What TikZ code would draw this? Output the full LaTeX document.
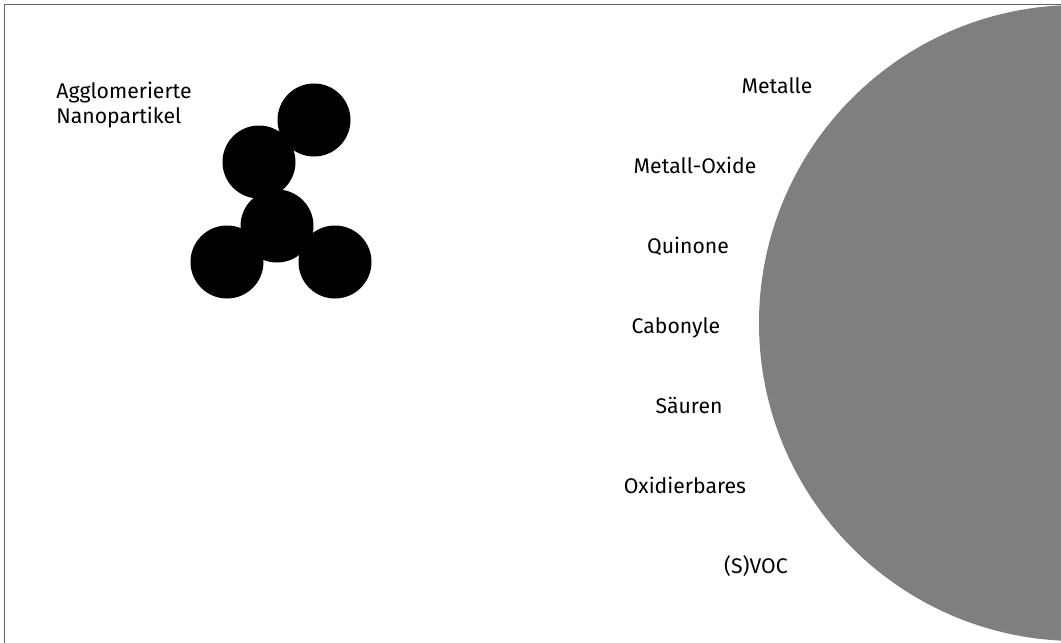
\documentclass[tikz,border=0pt]{standalone}
\usepackage{fontspec}
\setmainfont{Fira Sans}
\usetikzlibrary{positioning}
\definecolor{surfacegray}{RGB}{127,127,127}
\definecolor{framegray}{RGB}{100,100,100}
\tikzstyle{particle} = [circle, 
			fill = black, 
			inner sep = 0pt, 
			minimum size = 36.5pt]
\tikzstyle{surface} = [circle, 
			fill = surfacegray, 
			inner sep = 0pt, 
			minimum size = 318pt]
\tikzstyle{substance} = [inner sep = 0pt, 
			anchor = base]

\begin{document}
\begin{tikzpicture}[x = 0.5pt, y = -0.5pt, font = \fontsize{10.6}{12.5}\selectfont]
	\useasboundingbox (0,0) rectangle (1061,643);
	\clip (0,0) rectangle (1061,643);
	% frame and particle surface
	\draw [framegray, line width = 0.9pt] (4.5,660) -- (4.5,4.5) -- (1080,4.5);
	\node [surface] (body) at (1077,323) {};
	% agglomerate
	\node [particle] (p1) at (314,120) {};
	\node [particle] (p2) at (259,162) {};
	\node [particle] (p3) at (277,226) {};
	\node [particle] (p4) at (227,262) {};
	\node [particle] (p5) at (335,262) {};
	\node [inner sep = 0pt, align = left, anchor = base west] (agglo) at (56,123) {Agglomerierte\\Nanopartikel};
	% adsorbed substances
	\node [substance] (metalle) at (777,93) {Metalle};
	\node [substance] (oxide) at (695,173) {Metall-Oxide};
	\node [substance] (quinone) at (688,253) {Quinone};
	\node [substance] (carbonyl) at (676,333) {Cabonyle};
	\node [substance] (saeuren) at (689,413) {Säuren};
	\node [substance] (oxid) at (685,493) {Oxidierbares};
	\node [substance] (voc) at (756,573) {(S)VOC};
\end{tikzpicture}
\end{document}
